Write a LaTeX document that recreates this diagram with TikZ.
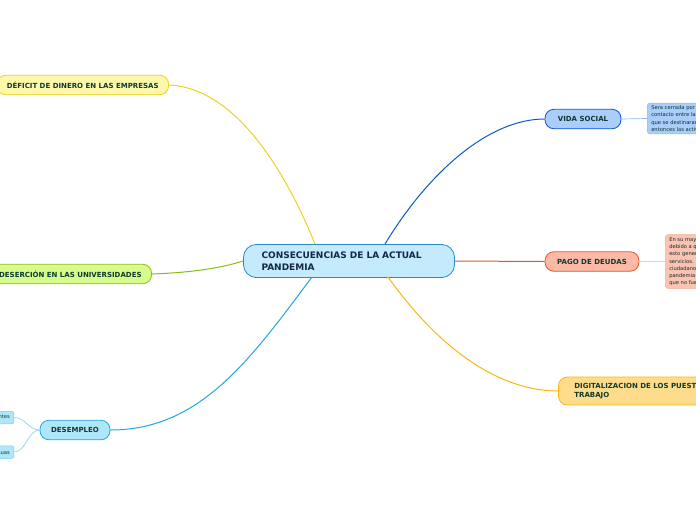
\documentclass[tikz,border=0pt]{standalone}
\usepackage{fontspec}
\setmainfont{DejaVu Sans}
\definecolor{rootfill}{HTML}{C4EAFB}
\definecolor{rootdraw}{HTML}{2A88C8}
\definecolor{rootink}{HTML}{142848}
\definecolor{branchink}{HTML}{0E3A30}
\definecolor{yelfill}{HTML}{FFF8AA}
\definecolor{yeldraw}{HTML}{E8D420}
\definecolor{grnfill}{HTML}{D8FC8C}
\definecolor{grndraw}{HTML}{8CBC14}
\definecolor{cyafill}{HTML}{B0E6FA}
\definecolor{cyadraw}{HTML}{1EA7E0}
\definecolor{blufill}{HTML}{A9CEFC}
\definecolor{bludraw}{HTML}{0A58CC}
\definecolor{redfill}{HTML}{FCB9A6}
\definecolor{reddraw}{HTML}{E0562A}
\definecolor{orafill}{HTML}{FFDC8C}
\definecolor{oradraw}{HTML}{F8B810}
\begin{document}
\begin{tikzpicture}[x=1pt, y=-1pt,
    rootbox/.style={draw=rootdraw, fill=rootfill, rounded corners=13pt, line width=0.8pt,
      font=\bfseries\fontsize{9}{11.5}\selectfont, text=rootink, align=left,
      text width=175pt, inner xsep=18pt, inner ysep=7.5pt},
    branchbox/.style={rounded corners=9pt, line width=0.8pt,
      font=\bfseries\fontsize{7}{9}\selectfont, text=branchink, align=left,
      minimum height=19.5pt, inner xsep=10pt, inner ysep=2pt},
    notebox/.style={rounded corners=3pt, line width=0.5pt,
      font=\fontsize{5.2}{7.3}\selectfont, text=branchink!80!black, align=left,
      inner xsep=4pt, inner ysep=2.5pt},
    leafbox/.style={draw=cyadraw!60, fill=cyafill, rounded corners=2pt, line width=0.5pt,
      font=\fontsize{5.2}{6}\selectfont, text=branchink, minimum height=12.5pt,
      inner xsep=4pt, inner ysep=1pt}]

    \useasboundingbox (0,0) rectangle (696,520);
    \clip (0,0) rectangle (696,520);

    % Central topic
    \node[rootbox] (root) at (349,261) {CONSECUENCIAS DE LA ACTUAL\\PANDEMIA};

    % Left branches
    \node[branchbox, draw=yeldraw, fill=yelfill, anchor=east] (deficit) at (169,85)
      {DÉFICIT DE DINERO EN LAS EMPRESAS};
    \node[branchbox, draw=grndraw, fill=grnfill, anchor=east] (desercion) at (152,274)
      {DESERCIÓN EN LAS UNIVERSIDADES};
    \node[branchbox, draw=cyadraw, fill=cyafill, minimum width=70pt] (desempleo) at (75,430)
      {DESEMPLEO};
    \node[leafbox, anchor=east] (leafa) at (14,417.5) {Despido de trabajadores independientes};
    \node[leafbox, anchor=east] (leafb) at (14,452) {Pérdidas económicas continuas};

    % Right branches
    \node[branchbox, draw=bludraw, fill=blufill, minimum width=76pt] (social) at (583,119)
      {VIDA SOCIAL};
    \node[branchbox, draw=reddraw, fill=redfill, minimum width=94pt] (deudas) at (592,261.5)
      {PAGO DE DEUDAS};
    \node[branchbox, draw=oradraw, fill=orafill, anchor=west, minimum height=28pt,
      inner xsep=16pt] (digital) at (558,391)
      {DIGITALIZACION DE LOS PUESTOS DE\\TRABAJO};

    % Notes
    \node[notebox, draw=bludraw!45, fill=blufill, anchor=west] (socialnote) at (647,118.5)
      {Sera cerrada por completo debido al\\contacto entre las personas, ya\\que se destinaran a cuarentena,\\entonces las actividades sociales};
    \node[notebox, draw=reddraw!45, fill=redfill!85, anchor=west] (deudasnote) at (665,261.5)
      {En su mayoría las personas no pagan\\debido a que no tienen ingresos,\\esto generó deudas en los\\servicios. Para muchos\\ciudadanos durante la\\pandemia es algo\\que no fue posible};

    % Connectors
    \draw[yeldraw, line width=1pt] (315,244) .. controls (285,170) and (235,88) .. (deficit.east);
    \draw[grndraw, line width=1pt] (root.west) .. controls (215,270) and (180,273) .. (desercion.east);
    \draw[cyadraw, line width=1pt] (312,277) .. controls (250,360) and (200,430) .. (desempleo.east);
    \draw[bludraw, line width=1pt] (385,244) .. controls (430,170) and (490,119) .. (social.west);
    \draw[reddraw, line width=1pt] (root.east) -- (deudas.west);
    \draw[oradraw, line width=1pt] (388,277) .. controls (440,350) and (500,391) .. (digital.west);
    \draw[blufill!80!bludraw, line width=0.7pt] (social.east) -- (socialnote.west);
    \draw[redfill!80, line width=0.7pt] (deudas.east) -- (deudasnote.west);
    \draw[cyadraw!50, line width=0.7pt] (desempleo.west) .. controls (28,430) and (26,417.5) .. (leafa.east);
    \draw[cyadraw!50, line width=0.7pt] (desempleo.west) .. controls (28,430) and (26,452) .. (leafb.east);
\end{tikzpicture}
\end{document}
